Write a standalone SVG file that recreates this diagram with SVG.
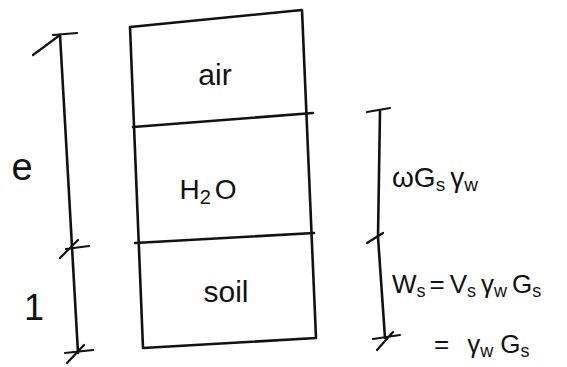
<svg xmlns="http://www.w3.org/2000/svg" width="567" height="367" viewBox="0 0 567 367">
<style>
.ln{stroke:#111;stroke-width:2.6;fill:none;stroke-linecap:round;stroke-linejoin:round}
.tk{stroke:#111;stroke-width:2.2;fill:none;stroke-linecap:round}
.t{font-family:"Liberation Sans","DejaVu Sans",sans-serif;fill:#111}
</style>
<rect width="567" height="367" fill="#fff"/>
<g id="column">
<path class="ln" d="M130,27 L302,10 L316,338 L143,348 Z"/>
<path class="ln" d="M133,127 L313,113"/>
<path class="ln" d="M135,243 L314,233"/>
</g>
<g id="air"><text class="t" x="215" y="85" font-size="30" text-anchor="middle">air</text></g>
<g id="water"><text class="t" x="208" y="199" font-size="28" text-anchor="middle">H<tspan font-size="20" dy="5">2</tspan><tspan dy="-5" dx="4">O</tspan></text></g>
<g id="soil"><text class="t" x="226" y="302" font-size="30" text-anchor="middle">soil</text></g>
<g id="connectors">
<path class="ln" d="M60,35 L66,140 L72,247 L78,353"/>
<path class="tk" d="M53,35 L77,33 M33,55 L60,35"/>
<path class="tk" d="M66,249 L89,246 M60,258 L78,240"/>
<path class="tk" d="M65,353 L93,350 M67,363 L84,345"/>
<path class="ln" d="M380,111 L378,237 L385,338"/>
<path class="tk" d="M367,112 L390,108"/>
<path class="tk" d="M367,243 L383,233"/>
<path class="tk" d="M373,339 L400,335 M377,350 L393,332"/>
</g>
<g id="e-label"><text class="t" x="22" y="180" font-size="38" text-anchor="middle">e</text></g>
<g id="one-label"><text class="t" x="34" y="320" font-size="36" text-anchor="middle">1</text></g>
<g id="water-weight"><text class="t" x="392" y="187" font-size="28">ωG<tspan font-size="19" dy="4">s</tspan><tspan dy="-4" dx="5">γ</tspan><tspan font-size="19" dy="4">w</tspan></text></g>
<g id="solid-weight"><text class="t" x="392" y="293" font-size="26">W<tspan font-size="18" dy="4">s</tspan><tspan dy="-4" dx="4">=</tspan><tspan dx="5">V</tspan><tspan font-size="18" dy="4">s</tspan><tspan dy="-4" dx="5">γ</tspan><tspan font-size="18" dy="4">w</tspan><tspan dy="-4" dx="5">G</tspan><tspan font-size="18" dy="4">s</tspan></text></g>
<g id="solid-weight-2"><text class="t" x="434" y="353" font-size="26">=<tspan dx="18">γ</tspan><tspan font-size="18" dy="4">w</tspan><tspan dy="-4" dx="7">G</tspan><tspan font-size="18" dy="4">s</tspan></text></g>
</svg>
